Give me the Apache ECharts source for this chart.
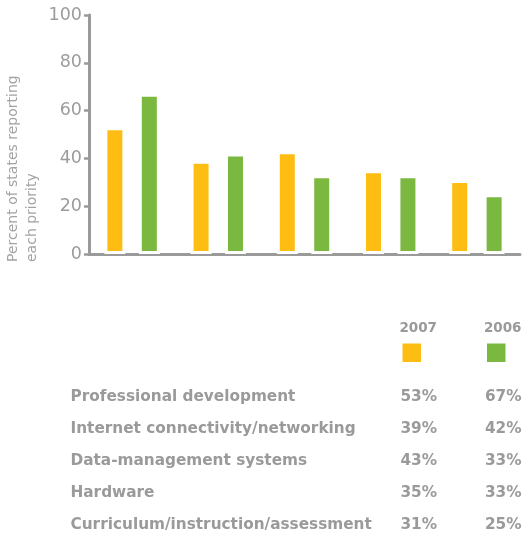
<!DOCTYPE html>
<html>
<head>
<meta charset="utf-8">
<script src="https://cdn.jsdelivr.net/npm/echarts@6/dist/echarts.min.js"></script>
<style>
html,body{margin:0;padding:0;background:#fff;}
#chart{width:522px;height:535px;}
</style>
</head>
<body>
<div id="chart"></div>
<script>
const categories = ['Professional development','Internet connectivity/networking','Data-management systems','Hardware','Curriculum/instruction/assessment'];
const values2007 = [53, 39, 43, 35, 31];
const values2006 = [67, 42, 33, 33, 25];
const seriesNames = ['2007', '2006'];
const yTicks = [0, 20, 40, 60, 80, 100];
const yAxisTitle = 'Percent of states reporting\neach priority';

const YELLOW = '#FDBD13';
const GREEN = '#7AB83F';
const GRAY = '#9a9a9a';

const chart = echarts.init(document.getElementById('chart'), null, {renderer: 'canvas'});

const graphics = [];
graphics.push({
  type: 'text', x: 4, y: 262, rotation: Math.PI / 2,
  style: {text: yAxisTitle, fill: '#a3a3a3', font: '14px "DejaVu Sans"', textAlign: 'left', textVerticalAlign: 'top', lineHeight: 19}
});
const colX = [437, 521.5];
const colors = [YELLOW, GREEN];
const tableFont = 'bold 15.3px "DejaVu Sans"';
seriesNames.forEach((n, i) => {
  graphics.push({type: 'text', x: colX[i], y: 328, style: {text: n, fill: GRAY, font: 'bold 13.5px "DejaVu Sans"', textAlign: 'right', textVerticalAlign: 'middle'}});
  graphics.push({type: 'rect', shape: {x: colX[i] - 34.5, y: 343.5, width: 18.5, height: 18.5}, style: {fill: colors[i]}});
});
categories.forEach((c, i) => {
  const y = 397.5 + i * 32;
  graphics.push({type: 'text', x: 70.5, y: y, style: {text: c, fill: GRAY, font: tableFont, textAlign: 'left', textVerticalAlign: 'middle'}});
  graphics.push({type: 'text', x: colX[0], y: y, style: {text: values2007[i] + '%', fill: GRAY, font: tableFont, textAlign: 'right', textVerticalAlign: 'middle'}});
  graphics.push({type: 'text', x: colX[1], y: y, style: {text: values2006[i] + '%', fill: GRAY, font: tableFont, textAlign: 'right', textVerticalAlign: 'middle'}});
});

const option = {
  animation: false,
  backgroundColor: '#fff',
  grid: {left: 89, right: 2, top: 15, bottom: 281, containLabel: false},
  xAxis: {
    type: 'category', data: categories,
    axisLine: {show: true, lineStyle: {color: GRAY, width: 3}},
    axisTick: {show: false}, axisLabel: {show: false}, splitLine: {show: false}
  },
  yAxis: {
    type: 'value', min: 0, max: 100, interval: 20,
    axisLine: {show: true, lineStyle: {color: GRAY, width: 3}},
    axisTick: {show: true, length: 5, lineStyle: {color: GRAY, width: 2.5}},
    axisLabel: {color: '#9c9c9c', fontSize: 17.5, fontFamily: 'DejaVu Sans', margin: 7,
      formatter: v => yTicks.includes(v) ? String(v) : ''},
    splitLine: {show: false}
  },
  series: [
    {name: seriesNames[0], type: 'bar', data: values2007, barWidth: 21, barGap: '64%',
     itemStyle: {color: YELLOW, borderColor: '#fff', borderWidth: 3}},
    {name: seriesNames[1], type: 'bar', data: values2006, barWidth: 21, barGap: '64%',
     itemStyle: {color: GREEN, borderColor: '#fff', borderWidth: 3}}
  ],
  graphic: graphics
};
chart.setOption(option);
</script>
</body>
</html>
